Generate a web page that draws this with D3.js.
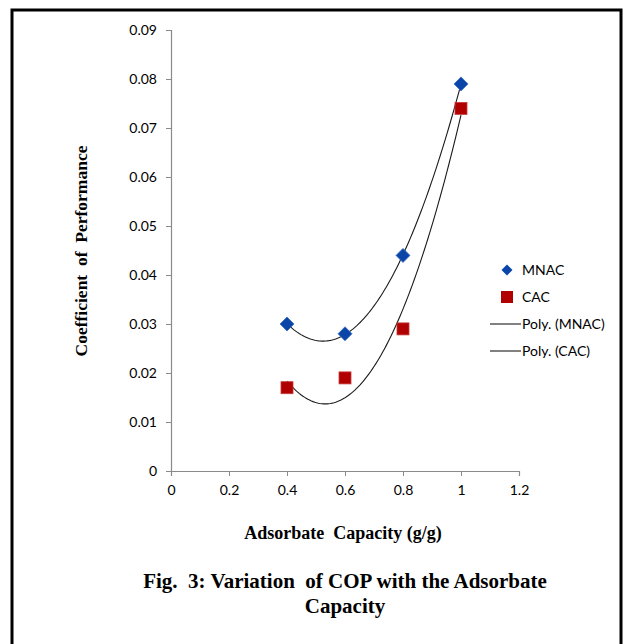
<!DOCTYPE html>
<html><head><meta charset="utf-8">
<script src="https://cdn.jsdelivr.net/npm/d3@7"></script>
<style>body{margin:0;background:#fff}svg{display:block}</style>
</head><body>
<svg id="c" width="626" height="644"></svg>
<script>
const xValues = [0.4, 0.6, 0.8, 1.0];
const mnac = [0.030, 0.028, 0.044, 0.079];
const cac = [0.017, 0.019, 0.029, 0.074];
const xTicks = [0, 0.2, 0.4, 0.6, 0.8, 1, 1.2];
const yTicks = [0, 0.01, 0.02, 0.03, 0.04, 0.05, 0.06, 0.07, 0.08, 0.09];
const seriesNames = ["MNAC", "CAC", "Poly. (MNAC)", "Poly. (CAC)"];

const svg = d3.select("#c");
svg.append("rect").attr("x", 12).attr("y", 10).attr("width", 609).attr("height", 660)
  .attr("fill", "none").attr("stroke", "#000").attr("stroke-width", 3);

const x = d3.scaleLinear().domain([0, 1.2]).range([171, 519]);
const y = d3.scaleLinear().domain([0, 0.09]).range([471, 30]);
const axisColor = "#8a8a8a";
const tickFont = "Lato, 'Open Sans', sans-serif";

const gx = svg.append("g").attr("transform", "translate(0,471)")
  .call(d3.axisBottom(x).tickValues(xTicks).tickSize(5).tickPadding(9).tickFormat(d => d3.format("~g")(d)));
const gy = svg.append("g").attr("transform", "translate(171,0)")
  .call(d3.axisLeft(y).tickValues(yTicks).tickSize(5).tickPadding(9).tickFormat(d => d === 0 ? "0" : d3.format(".2f")(d)));
[gx, gy].forEach(g => {
  g.select(".domain").attr("stroke", axisColor).attr("stroke-width", 1.2);
  g.selectAll(".tick line").attr("stroke", axisColor);
  g.selectAll(".tick text").attr("fill", "#000").style("font-family", tickFont).style("font-size", "14px");
});

// quadratic least squares fit (Excel polynomial trendline, order 2)
function quadFit(xs, ys) {
  const n = xs.length;
  let s = [0,0,0,0,0], t = [0,0,0];
  for (let i = 0; i < n; i++) {
    for (let k = 0; k <= 4; k++) s[k] += Math.pow(xs[i], k);
    for (let k = 0; k <= 2; k++) t[k] += ys[i] * Math.pow(xs[i], k);
  }
  const A = [[s[0], s[1], s[2], t[0]], [s[1], s[2], s[3], t[1]], [s[2], s[3], s[4], t[2]]];
  for (let i = 0; i < 3; i++) {
    for (let j = i + 1; j < 3; j++) {
      const f = A[j][i] / A[i][i];
      for (let k = i; k < 4; k++) A[j][k] -= f * A[i][k];
    }
  }
  const c = [0,0,0];
  for (let i = 2; i >= 0; i--) {
    let v = A[i][3];
    for (let k = i + 1; k < 3; k++) v -= A[i][k] * c[k];
    c[i] = v / A[i][i];
  }
  return xv => c[0] + c[1] * xv + c[2] * xv * xv;
}

const line = d3.line().x(d => x(d[0])).y(d => y(d[1])).curve(d3.curveLinear);
[mnac, cac].forEach(ser => {
  const f = quadFit(xValues, ser);
  const pts = d3.range(0, 101).map(i => {
    const xv = xValues[0] + (xValues[xValues.length - 1] - xValues[0]) * i / 100;
    return [xv, f(xv)];
  });
  svg.append("path").attr("d", line(pts)).attr("fill", "none")
    .attr("stroke", "#1a1a1a").attr("stroke-width", 1.1);
});

function drawDiamond(cx, cy, s) {
  const h = s / 2;
  return `M${cx},${cy - h}L${cx + h},${cy}L${cx},${cy + h}L${cx - h},${cy}Z`;
}
const blue = "#0a45a8", red = "#b00000";
svg.append("g").selectAll("path").data(xValues.map((xv, i) => [xv, mnac[i]])).join("path")
  .attr("d", d => drawDiamond(x(d[0]), y(d[1]), 14))
  .attr("fill", blue).attr("stroke", "#3a6cc4").attr("stroke-width", 0.8);
svg.append("g").selectAll("rect").data(xValues.map((xv, i) => [xv, cac[i]])).join("rect")
  .attr("x", d => x(d[0]) - 6).attr("y", d => y(d[1]) - 6).attr("width", 12).attr("height", 12)
  .attr("fill", red).attr("stroke", "#c83a3a").attr("stroke-width", 0.8);

// legend
const lg = svg.append("g").style("font-family", tickFont).style("font-size", "14px");
const ly = [270, 297, 324, 351];
lg.append("path").attr("d", drawDiamond(507, ly[0], 11)).attr("fill", blue);
lg.append("rect").attr("x", 501).attr("y", ly[1] - 6).attr("width", 12).attr("height", 12).attr("fill", red);
lg.append("line").attr("x1", 490).attr("x2", 521).attr("y1", ly[2]).attr("y2", ly[2]).attr("stroke", "#1a1a1a").attr("stroke-width", 1.1);
lg.append("line").attr("x1", 490).attr("x2", 521).attr("y1", ly[3]).attr("y2", ly[3]).attr("stroke", "#1a1a1a").attr("stroke-width", 1.1);
seriesNames.forEach((n, i) => {
  lg.append("text").attr("x", 522).attr("y", ly[i]).attr("dy", "0.35em").text(n);
});

// titles
const serif = "'Liberation Serif', 'Times New Roman', serif";
svg.append("text").attr("x", 343).attr("y", 539).attr("text-anchor", "middle")
  .style("font-family", serif).style("font-weight", "bold").style("font-size", "18px")
  .attr("xml:space", "preserve").text("Adsorbate  Capacity (g/g)");
svg.append("text").attr("transform", "translate(87,251) rotate(-90)").attr("text-anchor", "middle")
  .style("font-family", serif).style("font-weight", "bold").style("font-size", "17.5px")
  .attr("xml:space", "preserve").text("Coefficient  of  Performance");
const cap = svg.append("text").attr("text-anchor", "middle")
  .style("font-family", serif).style("font-weight", "bold").style("font-size", "21px")
  .attr("xml:space", "preserve");
cap.append("tspan").attr("x", 345).attr("y", 588).text("Fig.  3: Variation  of COP with the Adsorbate");
cap.append("tspan").attr("x", 345).attr("y", 613).text("Capacity");
</script>
</body></html>
